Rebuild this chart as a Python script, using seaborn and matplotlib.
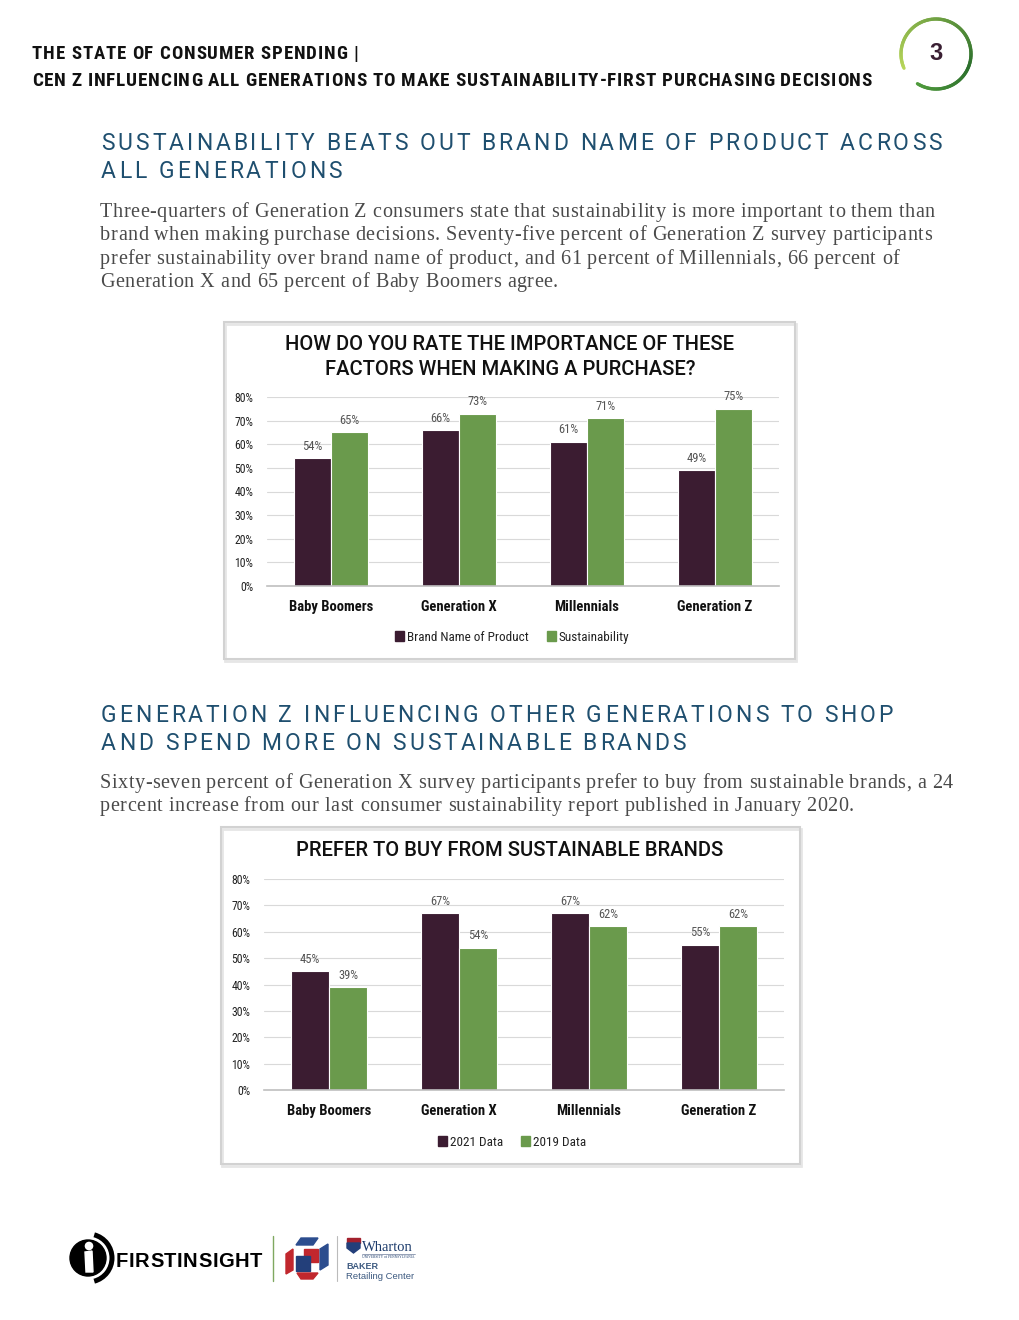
import numpy as np
import pandas as pd
import matplotlib
matplotlib.use("Agg")
import matplotlib.pyplot as plt
import seaborn as sns
from matplotlib import font_manager
from matplotlib.font_manager import FontProperties
from matplotlib.textpath import TextToPath
from matplotlib.patches import Rectangle, Circle, Polygon, Patch, Arc
from matplotlib.collections import LineCollection

sns.set_theme(style="white")

# ---- data ----
gens = ['Baby Boomers', 'Generation X', 'Millennials', 'Generation Z']
brand = [54, 66, 61, 49]
sustain = [65, 73, 71, 75]
data2021 = [45, 67, 67, 55]
data2019 = [39, 54, 62, 62]
yticks = [0, 10, 20, 30, 40, 50, 60, 70, 80]

DARK = '#3b1c31'
GREEN = '#6a9a4c'
BLUE = '#1f4f6f'
BODY = '#4a4a4a'

W, H = 1020, 1320

fonts = font_manager.fontManager.ttflist
names = {f.name for f in fonts}


def narrow_file(bold):
    want = 700 if bold else 400
    pref = ['Roboto Condensed', 'Liberation Sans Narrow', 'Open Sans Condensed', 'Noto Sans Condensed']
    for p in pref:
        for f in fonts:
            if f.name == p and abs(int(f.weight) - want) < 150 and f.style == 'normal':
                return f.fname
    for f in fonts:
        if f.stretch == 'condensed' and 'DejaVu' not in f.name and abs(int(f.weight) - want) < 150 \
                and f.style == 'normal':
            return f.fname
    tag = 'DejaVuSansCondensed-Bold' if bold else 'DejaVuSansCondensed.ttf'
    for f in fonts:
        if tag in f.fname:
            return f.fname
    return font_manager.findfont(FontProperties(family='DejaVu Sans', weight='bold' if bold else 'normal'))


NB = narrow_file(True)
NR = narrow_file(False)


def nfp(size, bold=False):
    return FontProperties(fname=NB if bold else NR, size=size)


SERIF = 'Liberation Serif' if 'Liberation Serif' in names else 'DejaVu Serif'
SANS = 'Roboto' if 'Roboto' in names else 'DejaVu Sans'
TITLE_W = 'medium' if any(f.name == SANS and int(f.weight) == 500 for f in fonts) else 'normal'

fig = plt.figure(figsize=(W / 100, H / 100), dpi=100)
bg = fig.add_axes([0, 0, 1, 1], zorder=0)
bg.set_xlim(0, W)
bg.set_ylim(H, 0)
bg.axis('off')

ttp = TextToPath()


def widths(s, prop):
    return [ttp.get_text_width_height_descent(c, prop, ismath=False)[0] * 100 / 72 for c in s]


def tracked(x, y, s, size, color, width=None, gap=None, minsize=None, fp=None, **kw):
    # place characters one by one, spacing them out to a given width or gap
    while True:
        prop = fp(size) if fp else FontProperties(size=size, **kw)
        ws = widths(s, prop)
        if width is not None:
            g = (width - sum(ws)) / (len(s) - 1)
            if minsize is not None and g < minsize and size > 6:
                size -= 0.25
                continue
        else:
            g = gap
        break
    cur = x
    for c, w in zip(s, ws):
        bg.text(cur, y, c, fontproperties=prop, color=color, ha='left', va='baseline')
        cur += w + g


# ---- header ----
hdr = lambda s: nfp(s, True)
tracked(32, 59, 'THE STATE OF CONSUMER SPENDING |', 15, '#111111', width=326, minsize=0.8, fp=hdr)
tracked(32, 86, 'CEN Z INFLUENCING ALL GENERATIONS TO MAKE SUSTAINABILITY-FIRST PURCHASING DECISIONS',
        15, '#111111', width=840, minsize=0.8, fp=hdr)

# page number ring
cx, cy, r = 936, 54, 35
ang = np.linspace(np.deg2rad(204), np.deg2rad(-122), 120)
pts = np.column_stack([cx + r * np.cos(ang), cy - r * np.sin(ang)])
segs = np.stack([pts[:-1], pts[1:]], axis=1)
c0 = np.array(matplotlib.colors.to_rgb('#b8d65a'))
c1 = np.array(matplotlib.colors.to_rgb('#2b6f2c'))
c2 = np.array(matplotlib.colors.to_rgb('#4f9a3c'))
t = np.linspace(0, 1, len(segs))
cols = [c0 + (c1 - c0) * (v / 0.7) if v <= 0.7 else c1 + (c2 - c1) * (v - 0.7) / 0.3 for v in t]
bg.add_collection(LineCollection(segs, colors=cols, linewidths=2.4, capstyle='round'))
bg.text(cx, cy, '3', fontsize=17, fontweight='bold', color='#3a1f33', ha='center', va='center',
        family='Liberation Sans')

# ---- section text ----
tracked(101, 150, 'SUSTAINABILITY BEATS OUT BRAND NAME OF PRODUCT ACROSS', 16.5, BLUE, width=841, family=SANS)
tracked(101, 178, 'ALL GENERATIONS', 16.5, BLUE, width=241, family=SANS)
para1 = ['Three-quarters of Generation Z consumers state that sustainability is more important to them than',
         'brand when making purchase decisions. Seventy-five percent of Generation Z survey participants',
         'prefer sustainability over brand name of product, and 61 percent of Millennials, 66 percent of',
         'Generation X and 65 percent of Baby Boomers agree.']
for i, line in enumerate(para1):
    tracked(100, 217 + i * 23.3, line, 14.5, BODY, gap=0.5, family=SERIF)

tracked(101, 722, 'GENERATION Z INFLUENCING OTHER GENERATIONS TO SHOP', 16.5, BLUE, width=792, family=SANS)
tracked(101, 750, 'AND SPEND MORE ON SUSTAINABLE BRANDS', 16.5, BLUE, width=585, family=SANS)
para2 = ['Sixty-seven percent of Generation X survey participants prefer to buy from sustainable brands, a 24',
         'percent increase from our last consumer sustainability report published in January 2020.']
for i, line in enumerate(para2):
    tracked(100, 788 + i * 23.3, line, 14.5, BODY, gap=0.5, family=SERIF)

# chart frames
for (x0, y0, x1, y1) in [(224, 322, 795, 659), (221, 827, 800, 1164)]:
    bg.add_patch(Rectangle((x0 + 1.5, y0 + 1.5), x1 - x0, y1 - y0, fill=False, ec='#e6e6e6', lw=2))
    bg.add_patch(Rectangle((x0, y0), x1 - x0, y1 - y0, fill=False, ec='#d2d2d2', lw=1.5))

for yy, s in [(350, 'HOW DO YOU RATE THE IMPORTANCE OF THESE'), (375, 'FACTORS WHEN MAKING A PURCHASE?'),
              (856, 'PREFER TO BUY FROM SUSTAINABLE BRANDS')]:
    bg.text(510, yy, s, fontsize=14.5, family=SANS, fontweight=TITLE_W,
            color='#111111', ha='center', va='baseline')


def chart(x0, x1, ytop, ybot, a, b, names_, legy, width):
    ax = fig.add_axes([x0 / W, 1 - ybot / H, (x1 - x0) / W, (ybot - ytop) / H], zorder=2)
    ax.patch.set_alpha(0)
    df = pd.DataFrame({'gen': gens * 2, 'val': a + b,
                       'series': [names_[0]] * 4 + [names_[1]] * 4})
    sns.barplot(data=df, x='gen', y='val', hue='series', palette=[DARK, GREEN], width=width,
                saturation=1, ax=ax, legend=False, edgecolor='white', linewidth=0.8)
    ax.set_xlim(-0.5, 3.5)
    ax.set_ylim(0, 80)
    ax.set_yticks(yticks)
    ax.set_yticklabels([f'{v}%' for v in yticks], fontproperties=nfp(8.5), color='#222222')
    ax.set_xticks(range(4))
    ax.set_xticklabels(gens, fontproperties=nfp(10.5, True), color='#111111')
    ax.tick_params(axis='x', length=0, pad=10)
    ax.tick_params(axis='y', length=0, pad=10)
    ax.yaxis.grid(True, color='#d9d9d9', lw=0.8)
    ax.set_axisbelow(True)
    for s in ['top', 'right', 'left']:
        ax.spines[s].set_visible(False)
    ax.spines['bottom'].set_color('#bfbfbf')
    ax.spines['bottom'].set_linewidth(1.2)
    ax.set_xlabel('')
    ax.set_ylabel('')
    for cont, vals in zip(ax.containers, [a, b]):
        ax.bar_label(cont, labels=[f'{v}%' for v in vals], padding=4, fontproperties=nfp(9),
                     color='#555555')
    handles = [Patch(color=DARK, label=names_[0]), Patch(color=GREEN, label=names_[1])]
    leg = fig.legend(handles=handles, loc='center', bbox_to_anchor=(512 / W, 1 - legy / H), ncol=2,
                     frameon=False, handlelength=0.7, handleheight=0.7, handletextpad=0.2,
                     columnspacing=1.4, prop=nfp(9.5))
    for txt in leg.get_texts():
        txt.set_color('#222222')
    return ax


chart(267, 779, 397, 586, brand, sustain, ['Brand Name of Product', 'Sustainability'], 637, 0.58)
chart(264, 784, 879, 1090, data2021, data2019, ['2021 Data', '2019 Data'], 1142, 0.585)

# ---- footer logos ----
bg.add_patch(Circle((88, 1258), 18, color='black'))
bg.add_patch(Circle((89, 1246), 3.6, color='white'))
bg.add_patch(Polygon([(85, 1252), (92, 1251), (93, 1272), (86, 1272)], color='white'))
bg.add_patch(Arc((88, 1258), 48, 48, theta1=-75, theta2=75, color='black', lw=3.6))
tracked(116, 1267, 'FIRSTINSIGHT', 14.5, 'black', width=146, weight='bold', family='Liberation Sans')
bg.plot([273, 273], [1236, 1281], color='#7fa860', lw=1)

navy, red = '#233f7a', '#c1272d'
bg.add_patch(Polygon([(301, 1238), (318, 1238), (313, 1245), (296, 1245)], color='#2c4d8e'))
bg.add_patch(Polygon([(286, 1254), (293, 1249), (293, 1270), (286, 1274)], color=red))
bg.add_patch(Polygon([(320, 1249), (328, 1244), (328, 1265), (320, 1270)], color='#2c4d8e'))
bg.add_patch(Rectangle((304, 1249), 14, 13, color=red))
bg.add_patch(Rectangle((296, 1256), 14, 15, color=navy))
bg.add_patch(Polygon([(297, 1273), (318, 1273), (313, 1279), (301, 1279)], color=red))
bg.plot([337, 337], [1236, 1281], color='#bbbbbb', lw=0.8)

bg.add_patch(Rectangle((347, 1238), 13, 5, color='#a3202d'))
bg.add_patch(Polygon([(347, 1243), (360, 1243), (360, 1248), (353.5, 1253), (347, 1248)], color=navy))
bg.text(362, 1251, 'Wharton', fontsize=10.5, family=SERIF, color='#1b3a6b', va='baseline')
bg.plot([362, 415], [1253.5, 1253.5], color='#6a7a99', lw=0.5)
bg.text(362, 1257.5, 'UNIVERSITY of PENNSYLVANIA', fontsize=2.6, family=SERIF, color='#1b3a6b', va='baseline')
bg.text(346, 1269, 'BAKER', fontsize=6.5, fontweight='bold', family='Liberation Sans', color='#3d5a80',
        va='baseline')
bg.text(346, 1279, 'Retailing Center', fontsize=6.8, family='Liberation Sans', color='#3d5a80',
        va='baseline')

fig.savefig('out.png', dpi=100)
